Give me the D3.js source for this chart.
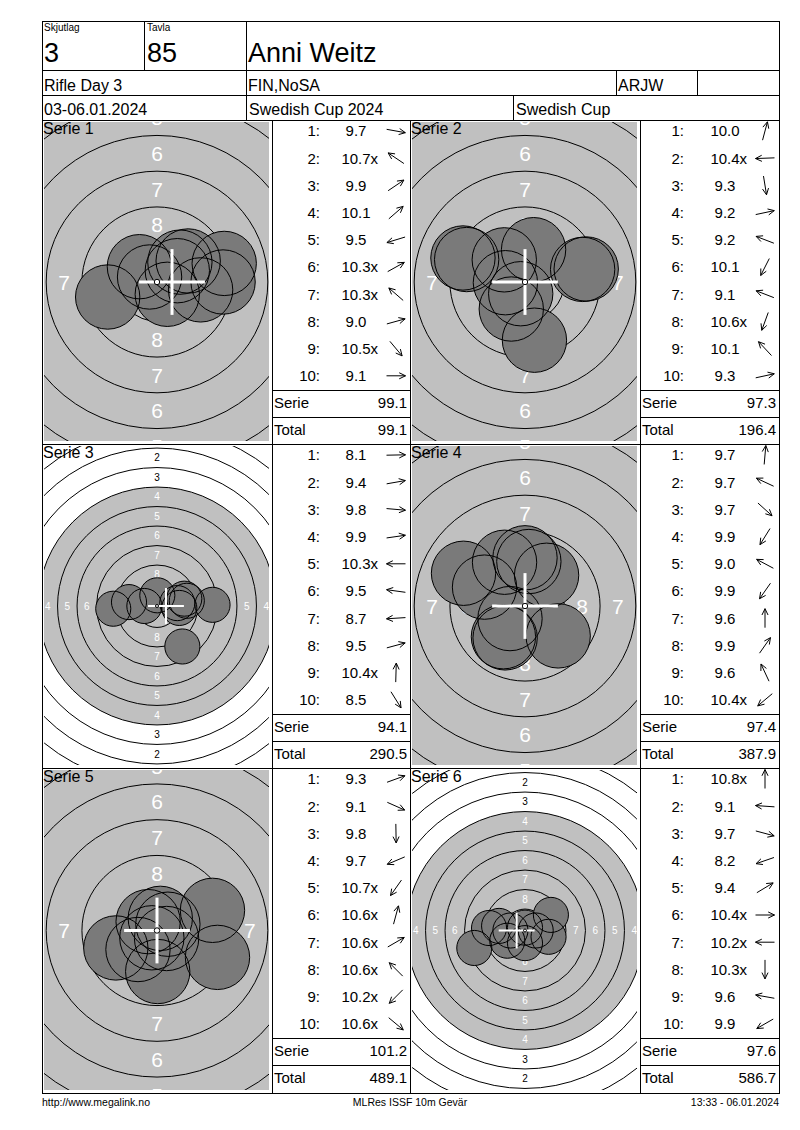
<!DOCTYPE html>
<html><head><meta charset="utf-8">
<script src="https://cdn.jsdelivr.net/npm/d3@7"></script>
<style>
body{margin:0;background:#fff}
text{font-family:"Liberation Sans",Arial,Helvetica,sans-serif}
</style>
</head><body>
<svg id="c" width="800" height="1130"></svg>
<script>
// ---------------- DATA ----------------
const seriesLabels = ["Serie 1","Serie 2","Serie 3","Serie 4","Serie 5","Serie 6"];

const scoresS1 = [9.7,10.7,9.9,10.1,9.5,10.3,10.3,9.0,10.5,9.1];
const scoresS2 = [10.0,10.4,9.3,9.2,9.2,10.1,9.1,10.6,10.1,9.3];
const scoresS3 = [8.1,9.4,9.8,9.9,10.3,9.5,8.7,9.5,10.4,8.5];
const scoresS4 = [9.7,9.7,9.7,9.9,9.0,9.9,9.6,9.9,9.6,10.4];
const scoresS5 = [9.3,9.1,9.8,9.7,10.7,10.6,10.6,10.6,10.2,10.6];
const scoresS6 = [10.8,9.1,9.7,8.2,9.4,10.4,10.2,10.3,9.6,9.9];

const innerS1 = [0,1,0,0,0,1,1,0,1,0];
const innerS2 = [0,1,0,0,0,0,0,1,0,0];
const innerS3 = [0,0,0,0,1,0,0,0,1,0];
const innerS4 = [0,0,0,0,0,0,0,0,0,1];
const innerS5 = [0,0,0,0,1,1,1,1,1,1];
const innerS6 = [1,0,0,0,0,1,1,1,0,0];

// shot centre positions in mm (x right, y up)
const shotXS1 = [3.05,-0.52,2.18,1.60,-3.45,1.42,-1.23,4.70,0.72,4.62];
const shotYS1 = [-0.55,0.35,1.47,1.39,-1.05,0.79,1.07,1.30,-0.86,0.00];
const shotXS2 = [0.60,-1.37,0.66,4.28,-4.08,-0.96,-4.34,-0.30,-1.45,4.03];
const shotYS2 = [2.26,-0.05,-4.07,0.91,1.57,-1.89,1.68,-0.82,1.55,0.88];
const shotXS3 = [7.12,3.82,2.86,2.60,-1.62,-3.59,-5.61,3.50,0.04,3.25];
const shotYS3 = [0.15,0.67,-0.25,0.37,0.00,0.50,-0.35,0.94,1.37,-5.19];
const shotXS4 = [0.27,-2.83,2.32,-1.39,-4.30,-1.51,0.00,1.51,-1.43,-1.05];
const shotYS4 = [3.11,1.32,-2.09,-2.23,2.29,-2.15,3.37,2.15,3.06,-0.88];
const shotXS5 = [3.88,4.23,0.05,-2.88,-0.36,0.23,0.76,-0.62,-1.33,0.67];
const shotYS5 = [1.41,-1.88,-2.87,-1.22,-0.51,0.85,0.44,0.62,-1.33,-0.56];
const shotXS6 = [0.00,-4.61,3.02,-6.50,3.32,1.37,-1.87,0.00,-3.32,-2.27];
const shotYS6 = [0.37,0.32,-0.81,-2.24,2.00,0.00,0.00,-1.62,0.59,-1.31];

// group centre (cross), mm
const groupCenterX = [1.05,0,1.15,0,0,-1.07];
const groupCenterY = [0,0,0,0,0,0];

const ringNumbers = [1,2,3,4,5,6,7,8,9];
const ringLabelNumbers = [1,2,3,4,5,6,7,8];

const headerTexts = {
  squadLabel:"Skjutlag", squad:"3", laneLabel:"Tavla", lane:"85", name:"Anni Weitz",
  event:"Rifle Day 3", club:"FIN,NoSA", cls:"ARJW",
  date:"03-06.01.2024", comp:"Swedish Cup 2024", cup:"Swedish Cup"
};
const footerTexts = ["http://www.megalink.no","MLRes ISSF 10m Gevär","13:33 - 06.01.2024"];

// ---------------- DRAW ----------------
const svg = d3.select("#c");
const scores = [scoresS1,scoresS2,scoresS3,scoresS4,scoresS5,scoresS6];
const inners = [innerS1,innerS2,innerS3,innerS4,innerS5,innerS6];
const shotX = [shotXS1,shotXS2,shotXS3,shotXS4,shotXS5,shotXS6];
const shotY = [shotYS1,shotYS2,shotYS3,shotYS4,shotYS5,shotYS6];

const PELLET_R = 2.25;
const ringRadius = n => 0.25 + (10-n)*2.5;
const rowTop = [120,444,768], rowH = [324,324,325];
const colTarget = [42,410], targetW = 230;
const colTable = [272,640], tableW = [138,139];
const labelOff = [48,44], valueOff = [84,85], arrowOff = [124,125];

const defs = svg.append("defs");
svg.append("rect").attr("width",800).attr("height",1130).attr("fill","#fff");

let running = 0;
d3.range(6).forEach(i => {
  const row = Math.floor(i/2), col = i%2;
  const x0 = colTarget[col], y0 = rowTop[row], w = targetW, h = rowH[row];
  const cx = x0 + w/2, cy = y0 + h/2;
  const xs = shotX[i], ys = shotY[i];
  const extent = d3.max(xs.map((x,j)=>Math.hypot(x,ys[j]))) + PELLET_R;
  const k = extent < 8 ? 14.3 : 7.8;
  const big = k > 10;
  const fs = big ? 21 : 10;
  const sx = d3.scaleLinear().domain([0,1]).range([cx, cx+k]);
  const sy = d3.scaleLinear().domain([0,1]).range([cy, cy-k]);
  const sr = d3.scaleLinear().domain([0,1]).range([0,k]);
  const clip = {x:x0+2, y:y0+2, w:w-5, h:h-5};

  defs.append("clipPath").attr("id","clip"+i).append("rect")
    .attr("x",clip.x).attr("y",clip.y).attr("width",clip.w).attr("height",clip.h);
  const g = svg.append("g").attr("clip-path",`url(#clip${i})`);
  g.append("circle").attr("cx",sx(0)).attr("cy",sy(0)).attr("r",sr(ringRadius(4))).attr("fill","#c0c0c0");
  g.selectAll("circle.ring").data(ringNumbers).join("circle").attr("class","ring")
    .attr("cx",sx(0)).attr("cy",sy(0)).attr("r",n=>sr(ringRadius(n)))
    .attr("fill","none").attr("stroke","#000").attr("stroke-width",1);
  const dirs = [[0,1],[0,-1],[1,0],[-1,0]];
  const labelData = [];
  ringLabelNumbers.forEach(n => dirs.forEach(d => {
    const px = sx(d[0]*(ringRadius(n)-1.25)), py = sy(d[1]*(ringRadius(n)-1.25));
    const m = fs*0.3;
    if (px > clip.x - m && px < clip.x + clip.w + m && py > clip.y - m && py < clip.y + clip.h + m)
      labelData.push({n, px, py});
  }));
  g.selectAll("text.rl").data(labelData).join("text").attr("class","rl")
    .attr("x", o => o.px).attr("y", o => o.py)
    .attr("dy","0.36em").attr("text-anchor","middle")
    .attr("font-size", fs)
    .attr("fill", o => o.n >= 4 ? "#fff" : "#000")
    .text(o => o.n);
  const shots = xs.map((x,j)=>({x, y:ys[j]}));
  g.selectAll("circle.sf").data(shots).join("circle").attr("class","sf")
    .attr("cx",d=>sx(d.x)).attr("cy",d=>sy(d.y)).attr("r",sr(PELLET_R)).attr("fill","#7a7a7a");
  g.selectAll("circle.so").data(shots).join("circle").attr("class","so")
    .attr("cx",d=>sx(d.x)).attr("cy",d=>sy(d.y)).attr("r",sr(PELLET_R))
    .attr("fill","none").attr("stroke","#000").attr("stroke-width",1);
  const mx = groupCenterX[i], my = groupCenterY[i], hl = 2.3;
  const cw = big ? 3 : 2;
  g.append("line").attr("x1",sx(mx-hl)).attr("x2",sx(mx+hl)).attr("y1",sy(my)).attr("y2",sy(my))
    .attr("stroke","#fff").attr("stroke-width",cw);
  g.append("line").attr("x1",sx(mx)).attr("x2",sx(mx)).attr("y1",sy(my-hl)).attr("y2",sy(my+hl))
    .attr("stroke","#fff").attr("stroke-width",cw);
  g.append("circle").attr("cx",sx(0)).attr("cy",sy(0)).attr("r",sr(0.19))
    .attr("fill","#fff").attr("stroke","#000").attr("stroke-width",1);
  svg.append("text").attr("x",x0+1).attr("y",y0+14).attr("font-size",16).text(seriesLabels[i]);

  // table
  const tx = colTable[col], tw = tableW[col];
  const sc = scores[i], inn = inners[i];
  const rowY = d3.scaleLinear().domain([0,9]).range([y0+11, y0+11+9*27.2]);
  sc.forEach((v,j) => {
    const yy = rowY(j);
    svg.append("text").attr("x",tx+labelOff[col]).attr("y",yy).attr("dy","0.36em")
      .attr("text-anchor","end").attr("font-size",15).text((j+1)+":");
    const t = svg.append("text").attr("x",tx+valueOff[col]).attr("y",yy).attr("dy","0.36em")
      .attr("text-anchor","middle").attr("font-size",15).text(v.toFixed(1));
    if (inn[j]) {
      const bb = t.node().getBBox();
      svg.append("text").attr("x",bb.x+bb.width).attr("y",yy).attr("dy","0.36em")
        .attr("font-size",15).text("x");
    }
    // arrow
    const ang = Math.atan2(shotY[i][j], shotX[i][j]);
    const ux = Math.cos(ang), uy = -Math.sin(ang);
    const ax = tx+arrowOff[col], L = 9.5;
    const x1 = ax-ux*L, y1 = yy-uy*L, x2 = ax+ux*L, y2 = yy+uy*L;
    const p = d3.path();
    p.moveTo(x1,y1); p.lineTo(x2,y2);
    [0.45,-0.45].forEach(a => {
      const bx = Math.cos(ang+Math.PI+a), by = -Math.sin(ang+Math.PI+a);
      p.moveTo(x2,y2); p.lineTo(x2+bx*7, y2+by*7);
    });
    svg.append("path").attr("d",p.toString()).attr("fill","none").attr("stroke","#000").attr("stroke-width",1);
  });
  const serieSum = d3.sum(sc);
  running += serieSum;
  svg.append("text").attr("x",tx+2).attr("y",y0+283).attr("dy","0.36em").attr("font-size",15).text("Serie");
  svg.append("text").attr("x",tx+tw-3).attr("y",y0+283).attr("dy","0.36em").attr("font-size",15)
    .attr("text-anchor","end").text(serieSum.toFixed(1));
  svg.append("text").attr("x",tx+2).attr("y",y0+310).attr("dy","0.36em").attr("font-size",15).text("Total");
  svg.append("text").attr("x",tx+tw-3).attr("y",y0+310).attr("dy","0.36em").attr("font-size",15)
    .attr("text-anchor","end").text(running.toFixed(1));
  [270,297].forEach(o => {
    svg.append("line").attr("x1",tx).attr("x2",tx+tw).attr("y1",y0+o+0.5).attr("y2",y0+o+0.5)
      .attr("stroke","#000");
  });
});

// grid lines
const L = (x1,y1,x2,y2) => svg.append("line").attr("x1",x1).attr("y1",y1).attr("x2",x2).attr("y2",y2)
  .attr("stroke","#000").attr("stroke-width",1).attr("shape-rendering","crispEdges");
svg.append("rect").attr("x",42.5).attr("y",21.5).attr("width",737).attr("height",1072)
  .attr("fill","none").attr("stroke","#000").attr("shape-rendering","crispEdges");
[70,95,120,444,768].forEach(y => L(42,y+0.5,780,y+0.5));
L(144.5,21,144.5,70); L(246.5,21,246.5,120);
L(616.5,70,616.5,95); L(697.5,70,697.5,95); L(513.5,95,513.5,120);
[272,410,640].forEach(x => L(x+0.5,120,x+0.5,1093));

// header text
const T = (x,y,s,txt,anchor) => svg.append("text").attr("x",x).attr("y",y).attr("font-size",s)
  .attr("text-anchor",anchor||"start").text(txt);
T(44,31,10,headerTexts.squadLabel);
T(147,31,10,headerTexts.laneLabel);
T(44,62,27,headerTexts.squad);
T(147,62,27,headerTexts.lane);
T(248,62,27,headerTexts.name);
T(44,91,16,headerTexts.event);
T(248,91,16,headerTexts.club);
T(618,91,16,headerTexts.cls);
T(44,115,16,headerTexts.date);
T(249,115,16,headerTexts.comp);
T(516,115,16,headerTexts.cup);

// footer
T(42,1106,10.5,footerTexts[0]);
T(410,1106,10.5,footerTexts[1],"middle");
T(779,1106,10.5,footerTexts[2],"end");
</script>
</body></html>
